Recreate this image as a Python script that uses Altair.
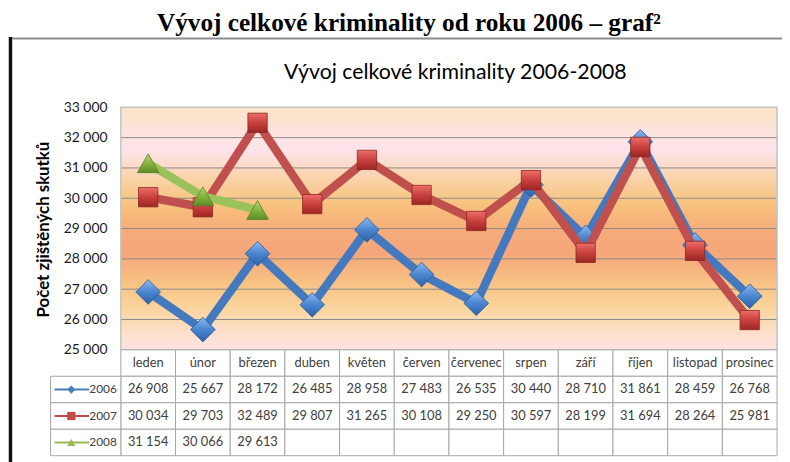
import altair as alt
import pandas as pd

months = ["leden", "únor", "březen", "duben", "květen", "červen", "červenec",
          "srpen", "září", "říjen", "listopad", "prosinec"]
years = ["2006", "2007", "2008"]
v2006 = [26908, 25667, 28172, 26485, 28958, 27483, 26535, 30440, 28710, 31861, 28459, 26768]
v2007 = [30034, 29703, 32489, 29807, 31265, 30108, 29250, 30597, 28199, 31694, 28264, 25981]
v2008 = [31154, 30066, 29613]
y_ticks = [25000, 26000, 27000, 28000, 29000, 30000, 31000, 32000, 33000]
heading = "Vývoj celkové kriminality od roku 2006 – graf²"
chart_title = "Vývoj celkové kriminality 2006-2008"
y_title = "Počet zjištěných skutků"

series_values = [v2006, v2007, v2008]
line_colors = ["#4579bf", "#c0504d", "#9bc25a"]
key_colors = ["#4a7ebb", "#be4b48", "#98b954"]
shapes = ["diamond", "square", "triangle-up"]
sizes = [620, 380, 480]
grads = [
    ["#8db8ee", "#4a85d0", "#2b62a8"],
    ["#ec6e6a", "#c9403d", "#9c2624"],
    ["#b4da74", "#86b53f", "#5f8c27"],
]
strokes = ["#25559a", "#8e2422", "#587f25"]

W = 663
PH = 245
H = 352

def fmt(v):
    return f"{v:,}".replace(",", " ")

rows = []
for yr, vals in zip(years, series_values):
    for m, v in zip(months, vals):
        rows.append({"year": yr, "month": m, "value": v, "label": fmt(v)})
df = pd.DataFrame(rows)

xscale = alt.Scale(type="band", domain=months, paddingInner=0, paddingOuter=0)
yscale = alt.Scale(domain=[25000, 33000], range=[PH, 0], nice=False, zero=False)
rowscale = alt.Scale(type="band", domain=["header"] + years, range=[PH, H],
                     paddingInner=0, paddingOuter=0)

one = pd.DataFrame({"k": [0]})
FONT = "Lato"

# frame
frame_left = alt.Chart(one).mark_rule(color="#111111", strokeWidth=3.5).encode(
    x=alt.value(-111.5), y=alt.value(-71), y2=alt.value(H + 10))
frame_top = alt.Chart(one).mark_rule(color="#8c8c8c", strokeWidth=2).encode(
    x=alt.value(-110), x2=alt.value(W + 10), y=alt.value(-69.5))

head = alt.Chart(pd.DataFrame({"t": [heading]})).mark_text(
    font="Liberation Serif", fontSize=25.5, fontWeight="bold", color="#000000",
    align="center", baseline="alphabetic").encode(
    x=alt.value(291), y=alt.value(-77), text="t:N")
ctitle = alt.Chart(pd.DataFrame({"t": [chart_title]})).mark_text(
    font=FONT, fontSize=21.5, color="#000000", align="center",
    baseline="alphabetic").encode(x=alt.value(338), y=alt.value(-29), text="t:N")

bg_grad = alt.Gradient(
    gradient="linear", x1=0, x2=0, y1=0, y2=1,
    stops=[
        alt.GradientStop(offset=0.0, color="#fbe3c6"),
        alt.GradientStop(offset=0.12, color="#fce4e2"),
        alt.GradientStop(offset=0.18, color="#fde3ea"),
        alt.GradientStop(offset=0.30, color="#f9d2a6"),
        alt.GradientStop(offset=0.40, color="#f8c27d"),
        alt.GradientStop(offset=0.50, color="#f6ad7a"),
        alt.GradientStop(offset=0.60, color="#f5a67a"),
        alt.GradientStop(offset=0.72, color="#f8c183"),
        alt.GradientStop(offset=0.83, color="#fad59e"),
        alt.GradientStop(offset=0.93, color="#fcdfcc"),
        alt.GradientStop(offset=1.0, color="#fde3e3"),
    ])

background = alt.Chart(one).mark_rect(fill=bg_grad).encode(
    x=alt.value(0), x2=alt.value(W),
    y=alt.Y(datum=33000, type="quantitative", scale=yscale,
            axis=alt.Axis(values=y_ticks, grid=False, ticks=False, domain=False,
                          labelFont=FONT, labelFontSize=14, labelColor="#1a1a1a",
                          labelPadding=14,
                          labelExpr="replace(format(datum.value, ','), ',', ' ')",
                          title=y_title, titleFont=FONT, titleFontSize=17,
                          titleFontWeight="bold", titleColor="#000000",
                          titleAngle=270, titleX=-78, titleY=123,
                          titleAlign="center", titleBaseline="middle")),
    y2=alt.Y2(datum=25000))

grid = alt.Chart(pd.DataFrame({"tick": y_ticks[1:-1]})).mark_rule(
    color="#8a8a8a", strokeWidth=1).encode(
    y=alt.Y("tick:Q", scale=yscale, axis=None), x=alt.value(0), x2=alt.value(W))

border = alt.Chart(one).mark_rect(fill=None, stroke="#c2c2c2", strokeWidth=1.5).encode(
    x=alt.value(0), x2=alt.value(W),
    y=alt.Y(datum=33000, type="quantitative", scale=yscale, axis=None),
    y2=alt.Y2(datum=25000))

layers = [frame_left, frame_top, head, ctitle, background, grid, border]

for i, yr in enumerate(years):
    d = df[df["year"] == yr]
    g = alt.Gradient(gradient="linear", x1=0, x2=0, y1=0, y2=1,
                     stops=[alt.GradientStop(offset=0, color=grads[i][0]),
                            alt.GradientStop(offset=0.5, color=grads[i][1]),
                            alt.GradientStop(offset=1, color=grads[i][2])])
    enc = dict(
        x=alt.X("month:N", scale=xscale, axis=None, bandPosition=0.5, sort=months),
        y=alt.Y("value:Q", scale=yscale, axis=None))
    line = alt.Chart(d).mark_line(color=line_colors[i], strokeWidth=8.5,
                                  strokeJoin="bevel").encode(**enc)
    pts = alt.Chart(d).mark_point(shape=shapes[i], size=sizes[i], filled=True,
                                  fill=g, stroke=strokes[i], strokeWidth=0.8,
                                  opacity=1).encode(**enc)
    layers += [line, pts]

# data table
cells = pd.DataFrame([{"row": r, "month": m} for r in ["header"] + years for m in months])
cell_layer = alt.Chart(cells).mark_rect(fill="#ffffff", stroke="#a6a6a6", strokeWidth=1).encode(
    x=alt.X("month:N", scale=xscale, axis=None),
    y=alt.Y("row:N", scale=rowscale, axis=None))

leg = pd.DataFrame({"row": years})
leg_cells = alt.Chart(leg).mark_rect(fill="#ffffff", stroke="#a6a6a6", strokeWidth=1).encode(
    x=alt.value(-71), x2=alt.value(0),
    y=alt.Y("row:N", scale=rowscale, axis=None))

hdr = alt.Chart(pd.DataFrame({"month": months, "row": ["header"] * 12})).mark_text(
    font=FONT, fontSize=13, color="#404040", baseline="middle").encode(
    x=alt.X("month:N", scale=xscale, axis=None, bandPosition=0.5),
    y=alt.Y("row:N", scale=rowscale, axis=None, bandPosition=0.5),
    text="month:N")

vals = alt.Chart(df.rename(columns={"year": "row"})).mark_text(
    font=FONT, fontSize=13, color="#404040", baseline="middle").encode(
    x=alt.X("month:N", scale=xscale, axis=None, bandPosition=0.5),
    y=alt.Y("row:N", scale=rowscale, axis=None, bandPosition=0.5),
    text="label:N")

ycolor = alt.Color("row:N", scale=alt.Scale(domain=years, range=key_colors), legend=None)
leg_text = alt.Chart(leg).mark_text(
    font=FONT, fontSize=12, color="#404040", baseline="middle", align="right").encode(
    x=alt.value(-4),
    y=alt.Y("row:N", scale=rowscale, axis=None, bandPosition=0.5),
    text="row:N")
leg_line = alt.Chart(leg).mark_rule(strokeWidth=2).encode(
    x=alt.value(-67), x2=alt.value(-32),
    y=alt.Y("row:N", scale=rowscale, axis=None, bandPosition=0.5),
    color=ycolor)
leg_pts = alt.Chart(leg).mark_point(filled=True, size=70, opacity=1).encode(
    x=alt.value(-50),
    y=alt.Y("row:N", scale=rowscale, axis=None, bandPosition=0.5),
    color=ycolor,
    shape=alt.Shape("row:N", scale=alt.Scale(domain=years, range=shapes), legend=None))

layers += [cell_layer, leg_cells, hdr, vals, leg_line, leg_pts, leg_text]

chart = alt.layer(*layers).resolve_scale(y="independent").properties(
    width=W, height=H,
    autosize=alt.AutoSizeParams(type="none"),
    padding={"left": 114, "top": 98, "right": 5, "bottom": 4},
    background="#ffffff",
).configure_view(stroke=None)

chart.save("out.html", embed_options={"renderer": "svg", "actions": False})
